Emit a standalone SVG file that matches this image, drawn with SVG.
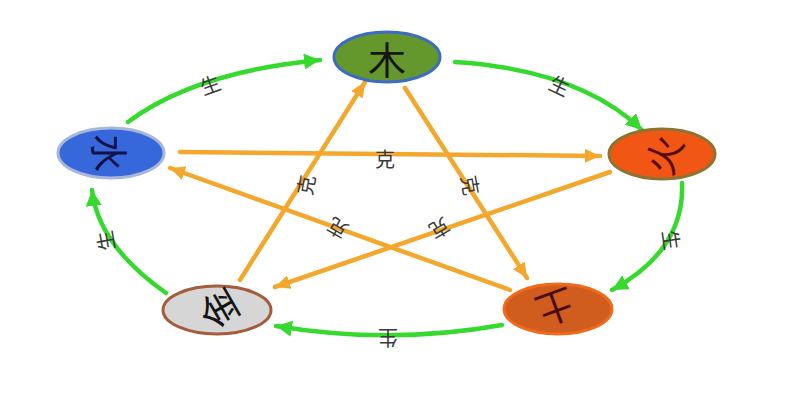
<svg xmlns="http://www.w3.org/2000/svg" width="800" height="400" viewBox="0 0 800 400">
<defs>
<style>
.sheng{fill:none;stroke:#36d92e;stroke-width:4.5;stroke-linecap:round}
.ke{fill:none;stroke:#f3a72c;stroke-width:4.5;stroke-linecap:round}
.lbl{font-family:"Noto Sans CJK SC","Noto Sans CJK TC",sans-serif;font-size:20px;fill:#3a3a3a;text-anchor:middle;dominant-baseline:central}
.glyph{font-family:"Noto Sans CJK SC","Noto Sans CJK TC",serif;font-size:38px;text-anchor:middle;dominant-baseline:central;font-weight:400}
</style>
<marker id="ag" markerUnits="userSpaceOnUse" markerWidth="18" markerHeight="16" refX="16" refY="8" orient="auto">
<path d="M0,0 L16,8 L0,16 Z" fill="#36d92e"/>
</marker>
<marker id="ao" markerUnits="userSpaceOnUse" markerWidth="16" markerHeight="14" refX="15" refY="7" orient="auto">
<path d="M0,0 L15,7 L0,14 Z" fill="#f3a72c"/>
</marker>
</defs>
<rect width="800" height="400" fill="#ffffff"/>
<g id="connectors">
<path class="sheng" d="M128,122 Q195,72 320,60" marker-end="url(#ag)"/>
<path class="sheng" d="M455,62 Q580,70 642,130" marker-end="url(#ag)"/>
<path class="sheng" d="M682,183 Q685,250 612,290" marker-end="url(#ag)"/>
<path class="sheng" d="M502,325 Q390,345 276,326" marker-end="url(#ag)"/>
<path class="sheng" d="M166,293 Q98,245 92,190" marker-end="url(#ag)"/>
<path class="ke" d="M405,88 L527,278" marker-end="url(#ao)"/>
<path class="ke" d="M510,290 L170,168" marker-end="url(#ao)"/>
<path class="ke" d="M180,152 L600,156" marker-end="url(#ao)"/>
<path class="ke" d="M610,172 L275,287" marker-end="url(#ao)"/>
<path class="ke" d="M240,280 L365,82" marker-end="url(#ao)"/>
<text class="lbl" transform="translate(210,84) rotate(-20)">生</text>
<text class="lbl" transform="translate(560,85) rotate(25)">生</text>
<text class="lbl" transform="translate(672,240) rotate(82)">生</text>
<text class="lbl" transform="translate(388,338) rotate(180)">生</text>
<text class="lbl" transform="translate(105,241) rotate(-100)">生</text>
<text class="lbl" transform="translate(385,158)">克</text>
<text class="lbl" transform="translate(305,185) rotate(-80)">克</text>
<text class="lbl" transform="translate(471,185) rotate(80)">克</text>
<text class="lbl" transform="translate(337,229) rotate(-150)">克</text>
<text class="lbl" transform="translate(440,229) rotate(150)">克</text>
</g>
<g id="wood">
<ellipse cx="387" cy="57" rx="53" ry="25" fill="#64982c" stroke="#3c6cc4" stroke-width="3"/>
<text class="glyph" x="387" y="57" fill="#161616">木</text>
</g>
<g id="fire">
<ellipse cx="662" cy="154" rx="53" ry="25" fill="#f25614" stroke="#8c7430" stroke-width="3"/>
<text class="glyph" transform="translate(662,154) rotate(-70)" fill="#5a0c0c">火</text>
</g>
<g id="earth">
<ellipse cx="558" cy="309" rx="54" ry="25" fill="#d05c1e" stroke="#f06a1c" stroke-width="3"/>
<text class="glyph" transform="translate(556,309) rotate(160)" fill="#4a0c0c">土</text>
</g>
<g id="metal">
<ellipse cx="217" cy="310" rx="54" ry="24" fill="#d6d6d6" stroke="#a45c3c" stroke-width="3"/>
<text class="glyph" transform="translate(217,310) rotate(-120)" fill="#141414">金</text>
</g>
<g id="water">
<ellipse cx="111" cy="153" rx="53" ry="25" fill="#3668dc" stroke="#a8b6dc" stroke-width="3"/>
<text class="glyph" transform="translate(111,153) rotate(90)" fill="#12124a">水</text>
</g>
</svg>
